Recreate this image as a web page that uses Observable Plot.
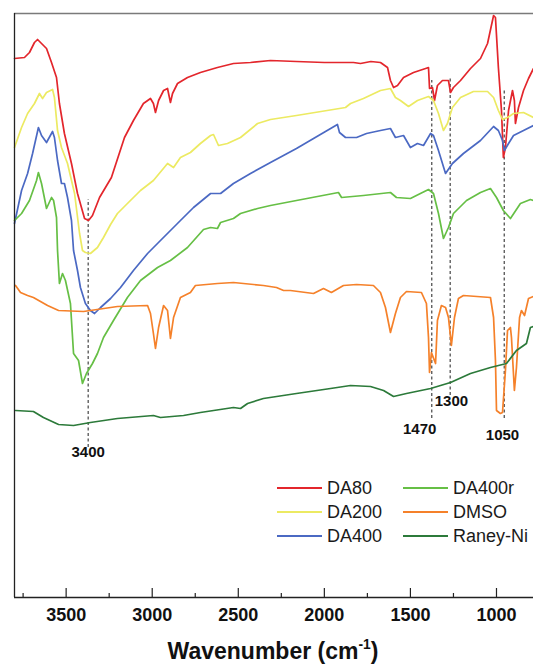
<!DOCTYPE html>
<html>
<head>
<meta charset="utf-8">
<script src="https://cdn.jsdelivr.net/npm/d3@7"></script>
<script src="https://cdn.jsdelivr.net/npm/@observablehq/plot@0.6"></script>
<style>
  body { margin: 0; background: #fff; font-family: Arial, "Liberation Sans", sans-serif; }
  #wrap { position: relative; width: 533px; height: 666px; overflow: hidden; }
  #legend { position: absolute; left: 277px; top: 476px; font-size: 18px; color: #1a1a1a; }
  .item { position: absolute; white-space: nowrap; height: 24px; line-height: 24px; }
  .swatch { display: inline-block; width: 45px; height: 2px; vertical-align: middle; margin-right: 5px; position: relative; top: -1px; }
  #xtitle { position: absolute; left: 0; width: 546px; top: 639px; text-align: center; font-weight: bold; font-size: 23px; line-height: 24px; color: #111; }
  #xtitle sup { font-size: 0.6em; line-height: 0; position: relative; top: -0.1em; }
</style>
</head>
<body>
<div id="wrap"></div>
<script>
// ---- data ----
const seriesNames = ["DA80", "DA200", "DA400", "DA400r", "DMSO", "Raney-Ni"];
const seriesColors = ["#e3262c", "#ecea62", "#4b69c3", "#66bf45", "#f5812a", "#2c7a3a"];

const da80Wn = [3800,3742,3713,3684,3666,3643,3614,3585,3556,3539,3510,3469,3434,3393,3370,3347,3306,3237,3161,3109,3051,3010,2993,2981,2963,2934,2911,2905,2894,2882,2853,2795,2720,2621,2528,2429,2313,2162,2000,1900,1831,1790,1730,1674,1633,1616,1598,1575,1540,1482,1412,1395,1389,1372,1360,1343,1314,1279,1267,1250,1209,1151,1093,1052,1017,1006,989,971,960,948,930,907,896,890,872,843,814,785];
const da80T  = [539,540,545,555,558,554,549,535,520,494,464,434,404,379,377,382,400,420,460,477,494,499,494,485,497,507,509,504,495,504,514,520,525,530,534,535,537,536,535,535,535,534,536,535,530,517,510,512,520,525,529,530,509,510,497,512,517,517,505,510,517,529,539,554,582,580,530,487,440,450,487,507,497,474,490,507,519,529];

const da200Wn = [3800,3759,3724,3684,3655,3637,3614,3579,3568,3550,3527,3492,3451,3422,3405,3388,3359,3318,3283,3242,3202,3144,3068,2993,2911,2876,2836,2778,2720,2661,2644,2615,2563,2487,2388,2313,2162,1877,1848,1773,1674,1616,1587,1558,1511,1459,1395,1366,1337,1308,1285,1256,1209,1134,1052,1017,989,965,936,901,843,785];
const da200T  = [450,470,484,494,504,499,505,508,500,467,450,434,404,364,347,345,344,350,360,373,384,394,407,417,434,430,440,445,454,462,463,452,454,460,474,478,482,490,494,499,507,509,500,497,491,497,501,497,484,467,474,490,500,506,506,500,487,478,480,484,485,480];

const da400Wn = [3800,3759,3724,3695,3661,3643,3614,3579,3568,3550,3527,3510,3492,3469,3457,3434,3417,3388,3359,3335,3300,3242,3184,3109,3027,2952,2894,2836,2760,2661,2603,2528,2429,2313,2162,1924,1912,1877,1813,1755,1674,1616,1587,1540,1500,1459,1424,1383,1366,1337,1296,1256,1192,1093,1017,989,965,954,930,901,843,785];
const da400T  = [374,407,424,444,470,462,455,466,460,437,414,414,400,377,347,327,310,294,287,284,290,299,310,327,344,357,367,377,390,404,404,414,424,435,449,473,465,460,460,464,467,469,460,462,450,454,452,464,462,447,424,434,444,457,471,467,457,447,454,462,467,472];

const da400rWn = [3800,3759,3713,3672,3661,3643,3614,3585,3573,3556,3550,3539,3521,3504,3475,3457,3428,3405,3382,3347,3318,3283,3225,3144,3068,2969,2894,2795,2702,2661,2621,2603,2528,2487,2388,2313,2162,1918,1900,1773,1616,1581,1500,1442,1395,1366,1337,1308,1279,1250,1174,1093,1035,1000,960,919,861,803,785];
const da400rT  = [377,384,397,417,425,414,389,400,397,380,347,314,324,317,294,244,237,214,224,234,244,260,277,300,317,330,337,350,368,370,369,375,379,384,389,392,397,405,400,402,405,400,399,404,408,404,384,359,370,384,397,405,409,400,387,379,394,398,397];

const dmsoWn = [3794,3765,3724,3690,3608,3544,3399,3202,3027,3010,2993,2981,2963,2934,2911,2894,2876,2836,2778,2749,2621,2528,2354,2278,2237,2197,2063,2005,1959,1889,1813,1715,1674,1645,1616,1587,1558,1523,1436,1407,1395,1389,1378,1354,1343,1320,1296,1279,1262,1244,1221,1192,1035,1017,1006,1000,977,965,948,936,919,913,896,884,866,855,837,814,785];
const dmsoT  = [312,305,302,300,292,287,286,291,292,284,264,249,270,292,287,259,280,300,305,312,314,315,312,310,307,307,304,309,305,312,313,312,305,290,265,284,300,306,305,294,260,225,245,234,277,292,290,280,252,280,299,302,300,280,237,187,184,185,227,267,270,260,207,230,280,287,282,299,301];

const raneyWn = [3794,3690,3632,3544,3457,3359,3202,2993,2952,2818,2720,2528,2487,2446,2354,2162,1964,1848,1732,1656,1598,1523,1383,1267,1151,1035,942,884,826,803,785];
const raneyT  = [187,186,180,173,172,175,179,182,180,182,185,190,189,194,199,204,209,212,211,207,201,204,209,215,224,230,234,247,254,270,271];

// dashed marker lines and their labels
const markerWn     = [3372, 1376, 1269, 955];
const markerLow    = [150, 179, 202, 179];
const markerHigh   = [398, 517, 520, 509];
const markerLabels = ["3400", "1470", "1300", "1050"];
const markerLabelWn = [3372, 1446, 1262, 965];
const markerLabelT  = [145, 168, 196, 162];

// axis ticks
const majorTicks = [3500, 3000, 2500, 2000, 1500, 1000];
const minorTicks = [3750, 3250, 2750, 2250, 1750, 1250];

// ---- build tables ----
const wnArrays = [da80Wn, da200Wn, da400Wn, da400rWn, dmsoWn, raneyWn];
const tArrays  = [da80T, da200T, da400T, da400rT, dmsoT, raneyT];
const rows = seriesNames.flatMap((name, i) =>
  wnArrays[i].map((wn, j) => ({name, wn, t: tArrays[i][j]})));
const markers = markerWn.map((wn, i) => ({wn, lo: markerLow[i], hi: markerHigh[i]}));
const markerText = markerLabels.map((label, i) => ({label, wn: markerLabelWn[i], t: markerLabelT[i]}));

const chart = Plot.plot({
  width: 533,
  height: 666,
  marginLeft: 14,
  marginRight: 0,
  marginTop: 13,
  marginBottom: 69,
  style: {background: "#fff", fontFamily: "Arial, 'Liberation Sans', sans-serif", overflow: "visible"},
  x: {domain: [3800, 785], axis: null},
  y: {domain: [0, 584], axis: null},
  color: {domain: seriesNames, range: seriesColors},
  marks: [
    Plot.ruleY([584], {stroke: "#7a7a7a", strokeWidth: 1.5}),
    Plot.ruleX(markers, {x: "wn", y1: "lo", y2: "hi", stroke: "#444", strokeWidth: 1.2, strokeDasharray: "3,2.5"}),
    Plot.line(rows, {x: "wn", y: "t", z: "name", stroke: "name", strokeWidth: 1.7, strokeLinejoin: "round"}),
    Plot.ruleX([3800], {stroke: "#222", strokeWidth: 1.3}),
    Plot.ruleY([0], {stroke: "#222", strokeWidth: 1.3}),
    Plot.ruleX(majorTicks, {x: d => d, y1: 0, y2: 9, stroke: "#222", strokeWidth: 1.2}),
    Plot.ruleX(minorTicks, {x: d => d, y1: 0, y2: 4, stroke: "#222", strokeWidth: 1.2}),
    Plot.text(majorTicks, {x: d => d, y: 0, dy: 18, text: d => String(d), fontSize: 18, fontWeight: "bold", fill: "#111"}),
    Plot.text(markerText, {x: "wn", y: "t", text: "label", fontSize: 15, fontWeight: "bold", fill: "#111"})
  ]
});

const wrap = document.getElementById("wrap");
wrap.appendChild(chart);

// legend (inside plot area, two columns)
const legend = document.createElement("div");
legend.id = "legend";
const colX = [0, 126];
seriesNames.forEach((name, i) => {
  const col = Math.floor(i / 3), row = i % 3;
  const item = document.createElement("div");
  item.className = "item";
  item.style.left = colX[col] + "px";
  item.style.top = (row * 24) + "px";
  const sw = document.createElement("span");
  sw.className = "swatch";
  sw.style.background = seriesColors[i];
  item.appendChild(sw);
  item.appendChild(document.createTextNode(name));
  legend.appendChild(item);
});
wrap.appendChild(legend);

const title = document.createElement("div");
title.id = "xtitle";
title.innerHTML = "Wavenumber (cm<sup>-1</sup>)";
wrap.appendChild(title);
</script>
</body>
</html>
